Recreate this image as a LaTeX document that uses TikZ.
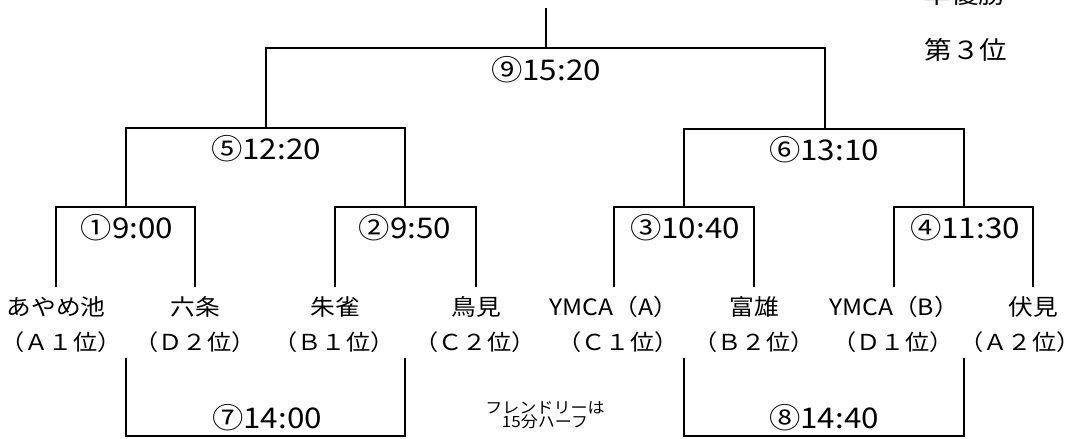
\documentclass[tikz,border=0pt]{standalone}
\usepackage{fontspec}
\setmainfont{Noto Sans CJK JP}[FakeStretch=1.1]
\begin{document}
\begin{tikzpicture}[x=1pt,y=1pt,
  wire/.style={line width=2.7pt, line join=miter},
  team/.style={inner sep=0pt, anchor=base, font=\fontsize{22.5}{24}\selectfont, text height=20pt, outer ysep=8pt},
  rank/.style={inner sep=0pt, anchor=base, font=\fontsize{22}{24}\selectfont, text depth=4pt, outer ysep=4pt},
  match/.style={inner sep=0pt, anchor=base, font=\fontsize{28.5}{30}\selectfont},
  place/.style={inner sep=0pt, anchor=base, font=\fontsize{25}{26}\selectfont},
  note/.style={inner sep=0pt, anchor=base, font=\fontsize{15.5}{16}\selectfont}]
\useasboundingbox (0,0) rectangle (1082,-439);
\fill[white] (0,0) rectangle (1082,-439);

% teams
\node[team] (t1) at (56,-315) {あやめ池};
\node[team] (t2) at (195,-315) {六条};
\node[team] (t3) at (335,-315) {朱雀};
\node[team] (t4) at (476,-315) {鳥見};
\node[team] (t5) at (614,-315) {YMCA（A）};
\node[team] (t6) at (754,-315) {富雄};
\node[team] (t7) at (894,-315) {YMCA（B）};
\node[team] (t8) at (1033,-315) {伏見};
% ranks
\node[rank] (r1) at (61,-350) {（Ａ１位）};
\node[rank] (r2) at (195,-350) {（Ｄ２位）};
\node[rank] (r3) at (334,-350) {（Ｂ１位）};
\node[rank] (r4) at (475,-350) {（Ｃ２位）};
\node[rank] (r5) at (618,-350) {（Ｃ１位）};
\node[rank] (r6) at (754,-350) {（Ｂ２位）};
\node[rank] (r7) at (893,-350) {（Ｄ１位）};
\node[rank] (r8) at (1020,-350) {（Ａ２位）};

% match labels
\node[match] (m1) at (127,-238) {①9:00};
\node[match] (m2) at (405,-238) {②9:50};
\node[match] (m3) at (685,-238) {③10:40};
\node[match] (m4) at (965,-238) {④11:30};
\node[match] (m5) at (266,-159) {⑤12:20};
\node[match] (m6) at (824,-160) {⑥13:10};
\node[match] (m7) at (267,-428) {⑦14:00};
\node[match] (m8) at (824,-428) {⑧14:40};
\node[match] (m9) at (546,-80) {⑨15:20};

% side texts
\node[place] (p2) at (965,-3) {準優勝};
\node[place] (p3) at (966,-59) {第３位};
\node[note] (n1) at (545,-413) {フレンドリーは};
\node[note] (n2) at (545,-427) {15分ハーフ};

% junction coordinates
\coordinate (j1) at (126,-207);
\coordinate (j2) at (405,-207);
\coordinate (j3) at (684,-207);
\coordinate (j4) at (964,-207);
\coordinate (j5) at (266,-128);
\coordinate (j6) at (825,-129);
\coordinate (j9) at (546,-48);
\coordinate (top) at (546,-8);
\coordinate (j7) at (266,-436);
\coordinate (j8) at (824,-436);
\coordinate (b7l) at (126,-358);
\coordinate (b7r) at (405,-358);
\coordinate (b8l) at (684,-358);
\coordinate (b8r) at (964,-358);

% brackets
\draw[wire] (t1.north) |- (j1) -| (t2.north);
\draw[wire] (t3.north) |- (j2) -| (t4.north);
\draw[wire] (t5.north) |- (j3) -| (t6.north);
\draw[wire] (t7.north) |- (j4) -| (t8.north);
\draw[wire] (j1) |- (j5) -| (j2);
\draw[wire] (j3) |- (j6) -| (j4);
\draw[wire] (j5) |- (j9) -| (j6);
\draw[wire] (top) -- (j9);
\draw[wire] (b7l) |- (j7) -| (b7r);
\draw[wire] (b8l) |- (j8) -| (b8r);
\end{tikzpicture}
\end{document}
